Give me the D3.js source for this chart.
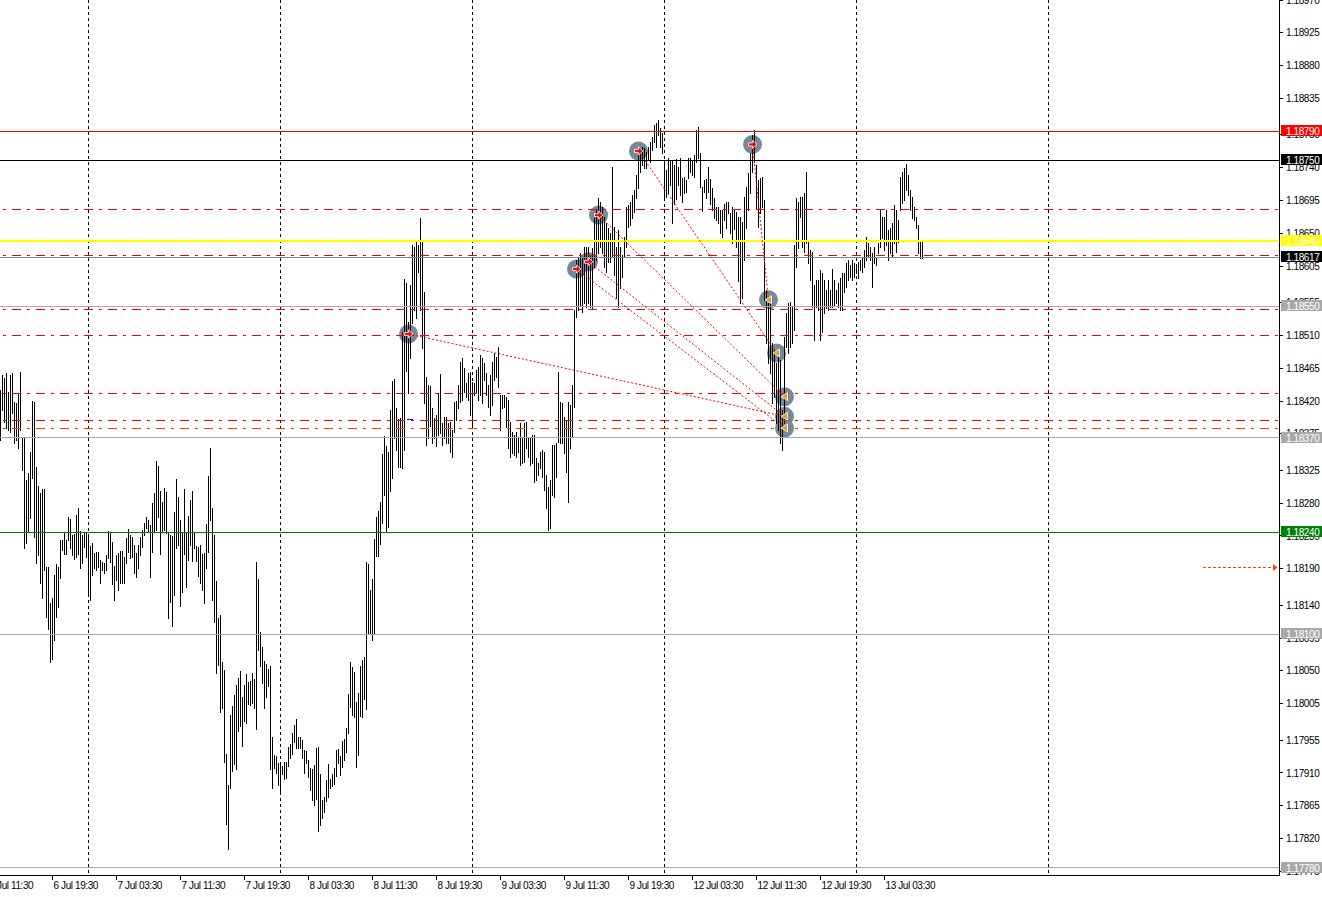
<!DOCTYPE html>
<html><head><meta charset="utf-8">
<script src="https://cdn.jsdelivr.net/npm/d3@7/dist/d3.min.js"></script>
<style>
html,body{margin:0;padding:0;background:#fff;overflow:hidden}
svg{display:block}
text{font-family:"Liberation Sans",Arial,sans-serif;font-size:10px;letter-spacing:-0.4px}
</style></head><body>
<svg id="c" width="1322" height="897"></svg>
<script>
// EURUSD M15 bars (high / low), first bar = 6 Jul 13:00
const highs = [
1.18435,1.18456,1.18452,1.18458,1.18432,1.18456,1.18458,1.18419,1.18417,1.18431,
1.18460,1.18369,1.18369,1.18312,1.18321,1.18350,1.18420,1.18419,1.18329,1.18303,
1.18294,1.18299,1.18299,1.18192,1.18192,1.18143,1.18150,1.18181,1.18196,1.18192,
1.18229,1.18229,1.18240,1.18229,1.18261,1.18258,1.18236,1.18238,1.18264,1.18273,
1.18242,1.18236,1.18240,1.18239,1.18236,1.18221,1.18225,1.18211,1.18213,1.18213,
1.18202,1.18199,1.18198,1.18209,1.18242,1.18240,1.18227,1.18194,1.18209,1.18211,
1.18214,1.18214,1.18206,1.18232,1.18244,1.18236,1.18233,1.18222,1.18211,1.18222,
1.18233,1.18243,1.18253,1.18261,1.18257,1.18250,1.18280,1.18294,1.18338,1.18331,
1.18297,1.18281,1.18301,1.18295,1.18240,1.18236,1.18235,1.18268,1.18313,1.18288,
1.18257,1.18240,1.18299,1.18240,1.18262,1.18284,1.18297,1.18240,1.18221,1.18220,
1.18222,1.18210,1.18211,1.18251,1.18317,1.18356,1.18273,1.18236,1.18173,1.18122,
1.18126,1.18062,1.18051,1.17936,1.17893,1.17989,1.18002,1.18017,1.18030,1.18040,
1.18050,1.18014,1.18030,1.18046,1.18035,1.18036,1.18047,1.18039,1.18199,1.18176,
1.18103,1.18083,1.18063,1.18059,1.18052,1.18057,1.17959,1.17934,1.17933,1.17923,
1.17922,1.17919,1.17925,1.17925,1.17945,1.17950,1.17965,1.17976,1.17984,1.17959,
1.17959,1.17955,1.17941,1.17940,1.17928,1.17917,1.17915,1.17921,1.17944,1.17945,
1.17908,1.17873,1.17877,1.17900,1.17922,1.17902,1.17908,1.17917,1.17941,1.17943,
1.17933,1.17954,1.17956,1.17971,1.18018,1.18062,1.18055,1.18048,1.18007,1.18019,
1.18057,1.18065,1.18069,1.18199,1.18196,1.18161,1.18176,1.18231,1.18261,1.18269,
1.18281,1.18347,1.18372,1.18358,1.18350,1.18408,1.18447,1.18450,1.18410,1.18395,
1.18397,1.18515,1.18587,1.18582,1.18528,1.18579,1.18634,1.18631,1.18641,1.18634,
1.18671,1.18641,1.18570,1.18453,1.18442,1.18441,1.18410,1.18397,1.18401,1.18431,
1.18457,1.18390,1.18398,1.18398,1.18390,1.18391,1.18380,1.18419,1.18420,1.18442,
1.18473,1.18479,1.18465,1.18445,1.18458,1.18460,1.18446,1.18445,1.18463,1.18467,
1.18483,1.18479,1.18472,1.18458,1.18442,1.18456,1.18473,1.18486,1.18480,1.18494,
1.18428,1.18428,1.18428,1.18425,1.18421,1.18391,1.18377,1.18373,1.18377,1.18371,
1.18390,1.18371,1.18390,1.18391,1.18371,1.18369,1.18373,1.18373,1.18342,1.18335,
1.18350,1.18353,1.18350,1.18318,1.18302,1.18312,1.18360,1.18360,1.18362,1.18460,
1.18419,1.18417,1.18398,1.18394,1.18419,1.18414,1.18442,1.18545,1.18613,1.18616,
1.18623,1.18616,1.18631,1.18631,1.18631,1.18620,1.18630,1.18671,1.18683,1.18698,
1.18693,1.18686,1.18672,1.18664,1.18657,1.18650,1.18741,1.18659,1.18631,1.18655,
1.18631,1.18620,1.18645,1.18686,1.18689,1.18693,1.18703,1.18709,1.18730,1.18762,
1.18767,1.18768,1.18767,1.18762,1.18768,1.18775,1.18782,1.18799,1.18801,1.18805,
1.18794,1.18788,1.18751,1.18737,1.18753,1.18751,1.18751,1.18744,1.18752,1.18741,
1.18753,1.18726,1.18727,1.18723,1.18753,1.18753,1.18751,1.18757,1.18792,1.18796,
1.18760,1.18714,1.18723,1.18724,1.18741,1.18724,1.18712,1.18698,1.18686,1.18686,
1.18682,1.18682,1.18690,1.18693,1.18693,1.18678,1.18686,1.18682,1.18679,1.18672,
1.18672,1.18666,1.18700,1.18714,1.18733,1.18760,1.18785,1.18792,1.18744,1.18723,
1.18726,1.18727,1.18696,1.18572,1.18554,1.18554,1.18500,1.18490,1.18472,1.18480,
1.18476,1.18408,1.18508,1.18541,1.18554,1.18556,1.18549,1.18634,1.18698,1.18693,
1.18700,1.18700,1.18705,1.18734,1.18638,1.18627,1.18624,1.18579,1.18586,1.18586,
1.18600,1.18596,1.18586,1.18572,1.18586,1.18572,1.18601,1.18586,1.18572,1.18582,
1.18589,1.18596,1.18596,1.18609,1.18613,1.18607,1.18613,1.18609,1.18607,1.18611,
1.18613,1.18616,1.18627,1.18645,1.18637,1.18631,1.18623,1.18631,1.18618,1.18637,
1.18682,1.18672,1.18672,1.18682,1.18655,1.18657,1.18664,1.18689,1.18682,1.18668,
1.18727,1.18734,1.18740,1.18745,1.18730,1.18709,1.18700,1.18686,1.18672,1.18661,
1.18641,1.18639
];
const lows = [
1.18367,1.18408,1.18391,1.18383,1.18380,1.18377,1.18404,1.18362,1.18367,1.18356,
1.18380,1.18325,1.18218,1.18225,1.18240,1.18260,1.18314,1.18233,1.18198,1.18209,
1.18170,1.18150,1.18188,1.18124,1.18107,1.18062,1.18066,1.18092,1.18124,1.18137,
1.18177,1.18216,1.18210,1.18210,1.18229,1.18218,1.18209,1.18203,1.18206,1.18210,
1.18191,1.18198,1.18220,1.18206,1.18157,1.18147,1.18181,1.18191,1.18188,1.18192,
1.18170,1.18188,1.18184,1.18188,1.18205,1.18199,1.18169,1.18147,1.18174,1.18161,
1.18170,1.18170,1.18170,1.18198,1.18213,1.18205,1.18206,1.18184,1.18179,1.18191,
1.18209,1.18220,1.18236,1.18246,1.18240,1.18179,1.18213,1.18240,1.18243,1.18261,
1.18210,1.18240,1.18243,1.18239,1.18122,1.18144,1.18111,1.18154,1.18218,1.18222,
1.18139,1.18158,1.18210,1.18165,1.18202,1.18222,1.18200,1.18218,1.18200,1.18180,
1.18170,1.18161,1.18143,1.18191,1.18213,1.18257,1.18147,1.18117,1.18047,1.18058,
1.17993,1.17999,1.17925,1.17840,1.17805,1.17889,1.17912,1.17922,1.17915,1.17967,
1.17974,1.17947,1.17981,1.17978,1.18004,1.18003,1.18006,1.17999,1.17970,1.18078,
1.18057,1.18033,1.17999,1.18014,1.18029,1.17915,1.17889,1.17917,1.17910,1.17893,
1.17884,1.17908,1.17902,1.17903,1.17919,1.17930,1.17936,1.17952,1.17944,1.17944,
1.17944,1.17930,1.17910,1.17923,1.17904,1.17886,1.17873,1.17866,1.17874,1.17830,
1.17838,1.17848,1.17856,1.17871,1.17877,1.17889,1.17892,1.17895,1.17906,1.17923,
1.17907,1.17918,1.17928,1.17939,1.17965,1.18000,1.17989,1.17987,1.17918,1.17934,
1.17988,1.17987,1.18011,1.17998,1.18100,1.18100,1.18092,1.18100,1.18207,1.18207,
1.18224,1.18253,1.18291,1.18240,1.18247,1.18297,1.18314,1.18369,1.18353,1.18329,
1.18329,1.18328,1.18353,1.18461,1.18431,1.18479,1.18527,1.18545,1.18534,1.18597,
1.18545,1.18493,1.18417,1.18360,1.18369,1.18386,1.18362,1.18369,1.18358,1.18373,
1.18376,1.18360,1.18369,1.18362,1.18362,1.18350,1.18343,1.18377,1.18394,1.18410,
1.18419,1.18421,1.18432,1.18425,1.18421,1.18401,1.18387,1.18428,1.18431,1.18421,
1.18428,1.18417,1.18449,1.18428,1.18412,1.18401,1.18414,1.18449,1.18453,1.18439,
1.18380,1.18410,1.18412,1.18384,1.18356,1.18343,1.18349,1.18346,1.18343,1.18350,
1.18332,1.18335,1.18336,1.18356,1.18343,1.18332,1.18335,1.18309,1.18312,1.18318,
1.18328,1.18316,1.18298,1.18273,1.18243,1.18246,1.18291,1.18288,1.18316,1.18364,
1.18362,1.18362,1.18349,1.18323,1.18281,1.18356,1.18371,1.18412,1.18535,1.18545,
1.18550,1.18542,1.18554,1.18549,1.18554,1.18549,1.18548,1.18604,1.18613,1.18623,
1.18631,1.18623,1.18604,1.18597,1.18611,1.18611,1.18618,1.18593,1.18561,1.18549,
1.18575,1.18590,1.18618,1.18631,1.18659,1.18661,1.18671,1.18679,1.18698,1.18712,
1.18734,1.18744,1.18740,1.18740,1.18751,1.18748,1.18764,1.18775,1.18768,1.18785,
1.18768,1.18760,1.18698,1.18700,1.18705,1.18716,1.18664,1.18690,1.18697,1.18716,
1.18703,1.18693,1.18705,1.18707,1.18726,1.18734,1.18730,1.18727,1.18748,1.18753,
1.18714,1.18681,1.18707,1.18698,1.18707,1.18690,1.18682,1.18671,1.18668,1.18664,
1.18650,1.18645,1.18668,1.18657,1.18678,1.18650,1.18637,1.18656,1.18631,1.18585,
1.18554,1.18561,1.18613,1.18657,1.18682,1.18705,1.18734,1.18748,1.18685,1.18659,
1.18678,1.18686,1.18559,1.18500,1.18472,1.18458,1.18417,1.18425,1.18390,1.18380,
1.18362,1.18353,1.18390,1.18494,1.18486,1.18494,1.18500,1.18517,1.18604,1.18630,
1.18672,1.18631,1.18624,1.18637,1.18609,1.18586,1.18549,1.18504,1.18549,1.18545,
1.18504,1.18515,1.18541,1.18548,1.18545,1.18549,1.18549,1.18552,1.18554,1.18549,
1.18545,1.18545,1.18570,1.18576,1.18586,1.18590,1.18586,1.18590,1.18596,1.18589,
1.18600,1.18597,1.18604,1.18613,1.18618,1.18613,1.18576,1.18609,1.18607,1.18623,
1.18631,1.18644,1.18627,1.18634,1.18613,1.18623,1.18618,1.18637,1.18624,1.18638,
1.18682,1.18692,1.18696,1.18709,1.18703,1.18682,1.18671,1.18668,1.18657,1.18623,
1.18616,1.18616
];

// price axis tick labels
const priceTicks = [1.18970,1.18925,1.18880,1.18835,1.18785,1.18740,1.18695,1.18650,1.18605,1.18555,
  1.18510,1.18465,1.18420,1.18375,1.18325,1.18280,1.18235,1.18190,1.18140,1.18095,1.18050,1.18005,
  1.17955,1.17910,1.17865,1.17820,1.17775];
// time axis labels and the bar index where each sits
const timeLabels = ["6 Jul 11:30","6 Jul 19:30","7 Jul 03:30","7 Jul 11:30","7 Jul 19:30","8 Jul 03:30",
  "8 Jul 11:30","8 Jul 19:30","9 Jul 03:30","9 Jul 11:30","9 Jul 19:30","12 Jul 03:30","12 Jul 11:30",
  "12 Jul 19:30","13 Jul 03:30"];
const timeLabelBars = [-6,26,58,90,122,154,186,218,250,282,314,346,378,410,442];
// vertical grid (day separators) bar indices
const gridBars = [44,140,236,332,428,524];

// horizontal price levels (solid) with label boxes
const levelPrices = [1.18790,1.18750,1.18640,1.18617,1.18550,1.18370,1.18240,1.18100,1.17780];
const levelLineColors = ["#ff0000","#000000","#ffff00","#778899","#a9a9a9","#a9a9a9","#008000","#a9a9a9","#a9a9a9"];
const levelBoxColors  = ["#ff0000","#000000","#ffff00","#000000","#a9a9a9","#a9a9a9","#008000","#a9a9a9","#a9a9a9"];
const levelWidths = [1,1,2,1,1,1,1,1,1];
// dash-dot order levels (SL/TP)
const dashPrices = [1.18682,1.18619,1.18546,1.18510,1.18430,1.18393,1.18382];
const dashColors = ["#ff0000","#ff0000","#ff0000","#ff0000","#ff0000","#ff0000","#ff4500"];

// trades: open markers and close markers
const openBars   = [204,288,294,299,319,376];
const openPrices = [1.18512,1.18601,1.18611,1.18675,1.18763,1.18772];
const closeBars   = [384,388,392,392,392];
const closePrices = [1.18559,1.18486,1.18426,1.18399,1.18383];
const tradeOpen  = [0,1,2,3,4,5];
const tradeClose = [3,4,3,2,1,0];

const bluePrice = 1.18395, blueBars = [203.3,206.3];
const arrowPrice = 1.18192;

const svg = d3.select("#c");
const plotW = 1279, plotH = 875;
const x = d3.scaleLinear().domain([0,461]).range([0.5,922.5]);
const y = d3.scaleLinear().domain([1.18970,1.17770]).range([0,875]);
const snap = v => Math.floor(v) + 0.5;

svg.append("defs").append("clipPath").attr("id","pc")
  .append("rect").attr("x",0).attr("y",0).attr("width",plotW).attr("height",plotH);
const plot = svg.append("g").attr("clip-path","url(#pc)");

// grid
plot.append("g").selectAll("line").data(gridBars).join("line")
  .attr("x1",d=>x(d)).attr("x2",d=>x(d)).attr("y1",0).attr("y2",plotH)
  .attr("stroke","#000").attr("stroke-width",1).attr("stroke-dasharray","3,3")
  .attr("shape-rendering","crispEdges");

// marker circles (behind bars)
const circ = plot.append("g");
circ.selectAll("circle.o").data(openBars).join("circle").attr("class","o")
  .attr("cx",(d)=>x(d)).attr("cy",(d,i)=>y(openPrices[i])).attr("r",9.5).attr("fill","#778899");
circ.selectAll("circle.c").data(closeBars).join("circle").attr("class","c")
  .attr("cx",(d)=>x(d)).attr("cy",(d,i)=>y(closePrices[i])).attr("r",9.5).attr("fill","#778899");

// bars
const n = Math.min(highs.length, lows.length);
plot.append("g").selectAll("line").data(d3.range(n)).join("line")
  .attr("x1",i=>x(i)).attr("x2",i=>x(i))
  .attr("y1",i=>Math.round(y(highs[i]))).attr("y2",i=>Math.round(y(lows[i]))+1)
  .attr("stroke","#000").attr("stroke-width",1).attr("shape-rendering","crispEdges");

// dash-dot lines
plot.append("g").selectAll("line").data(dashPrices).join("line")
  .attr("x1",0).attr("x2",plotW).attr("y1",d=>snap(y(d))).attr("y2",d=>snap(y(d)))
  .attr("stroke",(d,i)=>dashColors[i]).attr("stroke-width",1)
  .attr("stroke-dasharray","9,6,3,6").attr("stroke-dashoffset",11.7)
  .attr("shape-rendering","crispEdges");

// solid levels
plot.append("g").selectAll("line").data(levelPrices).join("line")
  .attr("x1",0).attr("x2",plotW)
  .attr("y1",(d,i)=>levelWidths[i]==2?Math.round(y(d)):snap(y(d)))
  .attr("y2",(d,i)=>levelWidths[i]==2?Math.round(y(d)):snap(y(d)))
  .attr("stroke",(d,i)=>levelLineColors[i]).attr("stroke-width",(d,i)=>levelWidths[i])
  .attr("shape-rendering","crispEdges");

// blue small segment
plot.append("line").attr("x1",x(blueBars[0])).attr("x2",x(blueBars[1]))
  .attr("y1",snap(y(bluePrice))).attr("y2",snap(y(bluePrice)))
  .attr("stroke","#0000ff").attr("shape-rendering","crispEdges");

// trade connecting lines
plot.append("g").selectAll("line").data(tradeOpen).join("line")
  .attr("x1",(d)=>x(openBars[d])).attr("y1",(d)=>y(openPrices[d]))
  .attr("x2",(d,i)=>x(closeBars[tradeClose[i]])).attr("y2",(d,i)=>y(closePrices[tradeClose[i]]))
  .attr("stroke","#ff0000").attr("stroke-width",1).attr("stroke-dasharray","2,2");

// open arrows
plot.append("g").selectAll("path").data(openBars).join("path")
  .attr("transform",(d,i)=>`translate(${x(d)},${y(openPrices[i])})`)
  .attr("d","M-4,-1.5L0,-1.5L0,-4L4.5,0L0,4L0,1.5L-4,1.5Z")
  .attr("fill","#ff0000").attr("stroke","#fff").attr("stroke-width",0.8);
// close arrows
plot.append("g").selectAll("path").data(closeBars).join("path")
  .attr("transform",(d,i)=>`translate(${x(d)},${y(closePrices[i])})`)
  .attr("d","M-3.5,0L3,-4L3,4Z")
  .attr("fill","#daa520").attr("stroke","#fff").attr("stroke-width",0.8);

// price arrow in right margin
const ay = snap(y(arrowPrice));
plot.append("line").attr("x1",1203).attr("x2",1273).attr("y1",ay).attr("y2",ay)
  .attr("stroke","#ff4500").attr("stroke-dasharray","3,2").attr("shape-rendering","crispEdges");
plot.append("path").attr("d",`M1273,${ay-3.5}L1277.5,${ay}L1273,${ay+3.5}Z`).attr("fill","#ff4500");

// axes frame
svg.append("line").attr("x1",plotW+0.5).attr("x2",plotW+0.5).attr("y1",0).attr("y2",plotH+1)
  .attr("stroke","#000").attr("shape-rendering","crispEdges");
svg.append("line").attr("x1",0).attr("x2",plotW+1).attr("y1",plotH+0.5).attr("y2",plotH+0.5)
  .attr("stroke","#000").attr("shape-rendering","crispEdges");

// price ticks
const pt = svg.append("g");
pt.selectAll("line").data(priceTicks).join("line")
  .attr("x1",plotW+1).attr("x2",plotW+4).attr("y1",d=>snap(y(d))).attr("y2",d=>snap(y(d)))
  .attr("stroke","#000").attr("shape-rendering","crispEdges");
pt.selectAll("text").data(priceTicks).join("text")
  .attr("x",1286).attr("y",d=>y(d)).attr("dy","0.36em").attr("fill","#000")
  .text(d=>d.toFixed(5));

// level label boxes
const lb = svg.append("g");
levelPrices.forEach((p,i)=>{
  const yy = Math.round(y(p));
  lb.append("rect").attr("x",1281).attr("y",yy-6).attr("width",45).attr("height",11)
    .attr("fill",levelBoxColors[i]);
  lb.append("text").attr("x",1286).attr("y",yy).attr("dy","0.36em").attr("fill","#fff")
    .text(p.toFixed(5));
});

// time axis
const tg = svg.append("g");
tg.selectAll("line").data(timeLabelBars).join("line")
  .attr("x1",d=>x(d)).attr("x2",d=>x(d)).attr("y1",plotH+1).attr("y2",plotH+5)
  .attr("stroke","#000").attr("shape-rendering","crispEdges");
tg.selectAll("text").data(timeLabels).join("text")
  .attr("x",(d,i)=>x(timeLabelBars[i])+1).attr("y",889).attr("fill","#000")
  .text(d=>d);
</script>
</body></html>
